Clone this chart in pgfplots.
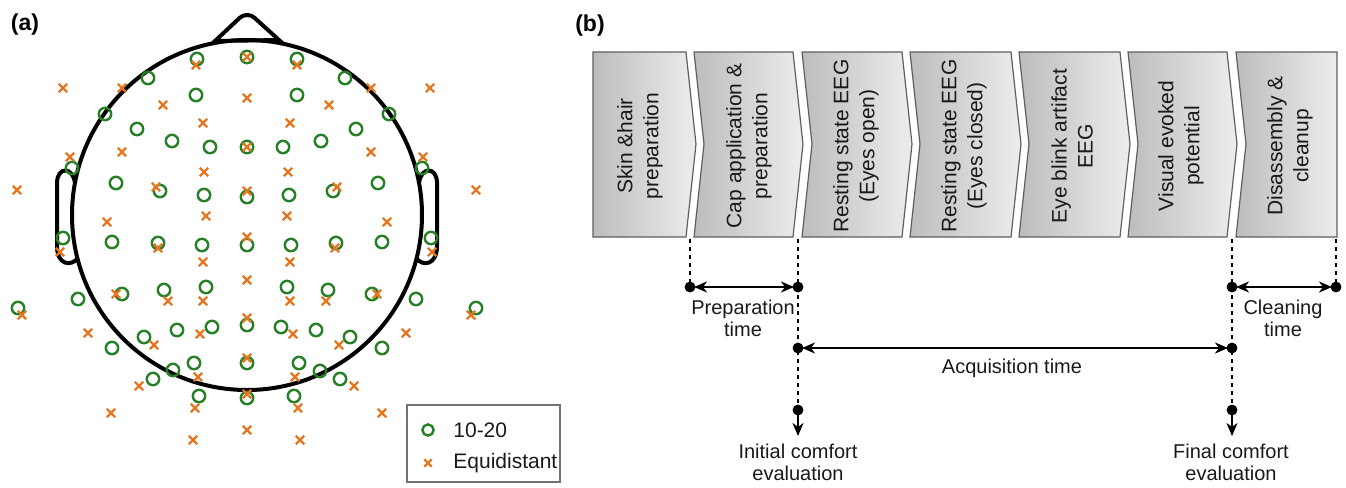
\documentclass[border=0pt]{standalone}
\usepackage{fontspec}
\setmainfont{Liberation Sans}
\usepackage{pgfplots}
\pgfplotsset{compat=1.18}
\usetikzlibrary{arrows.meta}
\definecolor{eeggreen}{RGB}{38,128,38}
\definecolor{eegorange}{RGB}{232,118,32}
\definecolor{boxline}{RGB}{95,95,95}
\begin{document}
\begin{tikzpicture}[
  boxstyle/.style={draw=boxline, line width=0.6pt, left color=black!26, right color=black!7},
  boxtext/.style={rotate=90, align=center, text=black!90, font=\fontsize{10.5}{13}\selectfont},
  lowtext/.style={align=center, text=black!90, font=\fontsize{10}{11}\selectfont},
  arr/.style={line width=1pt, black},
  dotline/.style={line width=1pt, black, dash pattern=on 2pt off 2pt},
  ahead/.tip={Stealth[length=6.5pt,width=5.5pt,inset=2pt]},
]
\begin{axis}[
  width=673pt, height=242pt, scale only axis,
  xmin=0, xmax=1346, ymin=0, ymax=484, y dir=reverse,
  hide axis, clip=false,
]
\path (axis cs:0,0) rectangle (axis cs:1346,484);

% ---------- panel (a): head outline ----------
\draw[line width=2pt] (axis cs:247,215) circle [radius=87.5pt];
\draw[line width=2pt] (axis cs:215,41) [rounded corners=5pt] -- (axis cs:247,11) [sharp corners] -- (axis cs:279,40) -- cycle;
\draw[line width=2pt] (axis cs:75,183) .. controls (axis cs:73,167) and (axis cs:58,166) .. (axis cs:57,182) -- (axis cs:57,246) .. controls (axis cs:57,265) and (axis cs:71,267) .. (axis cs:78,258);
\draw[line width=2pt] (axis cs:419,183) .. controls (axis cs:421,167) and (axis cs:436,166) .. (axis cs:437,182) -- (axis cs:437,246) .. controls (axis cs:437,265) and (axis cs:423,267) .. (axis cs:416,258);

% 10-20 electrodes
\addplot[only marks, mark=o, eeggreen, mark size=3.1pt, line width=1.2pt] coordinates {
(197,59) (247,57) (297,59)
(148,78) (345,78)
(196,95) (297,95)
(105,114) (389,114)
(137,129) (356,129)
(172,141) (321,141)
(210,147) (247,147) (283,147)
(72,168) (422,168)
(116,183) (378,183)
(160,191) (333,191)
(204,195) (247,197) (289,195)
(63,238) (112,242) (158,243) (202,245) (247,245) (291,245) (336,243) (382,242) (431,238)
(206,287) (287,287) (164,290) (328,290) (122,294) (372,294) (78,299) (416,299)
(18,308) (476,308)
(247,325) (212,327) (281,327) (177,330) (316,330) (144,337) (350,337)
(112,348) (382,348)
(194,363) (247,363) (299,363)
(173,370) (320,371)
(153,379) (340,379)
(199,396) (247,398) (294,396)
};
% Equidistant electrodes
\addplot[only marks, mark=x, eegorange, mark size=3pt, line width=1.2pt] coordinates {
(196,65) (247,57) (297,65)
(63,88) (122,88) (371,88) (430,88)
(247,98)
(163,105) (329,105)
(203,123) (290,123)
(247,147)
(122,152) (371,152) (70,157) (423,157)
(204,172) (288,172)
(17,190) (156,187) (247,191) (337,187) (476,190)
(206,216) (287,216) (107,222) (387,222)
(247,237)
(158,248) (335,248) (60,252) (432,252)
(203,262) (290,262)
(247,280)
(116,294) (377,294)
(168,301) (203,301) (290,301) (326,301)
(22,315) (471,315)
(247,318)
(88,333) (406,333)
(200,334) (293,334)
(154,345) (339,345)
(247,358)
(198,377) (295,377)
(139,386) (354,386)
(247,394)
(195,408) (298,408)
(111,413) (382,413)
(247,430)
(193,440) (300,440)
};

% legend
\draw[draw=black!55, line width=0.8pt] (axis cs:407,405) rectangle (axis cs:560,482);
\addplot[only marks, mark=o, eeggreen, mark size=2.8pt, line width=1.2pt] coordinates {(428,430)};
\addplot[only marks, mark=x, eegorange, mark size=2.6pt, line width=1.2pt] coordinates {(428,463)};
\node[anchor=west, inner sep=0pt, text=black!90, font=\fontsize{10.5}{12}\selectfont] at (axis cs:453,430) {10-20};
\node[anchor=west, inner sep=0pt, text=black!90, font=\fontsize{10.5}{12}\selectfont] at (axis cs:453,463) {Equidistant};

\node[font=\bfseries\fontsize{11.5}{13}\selectfont] at (axis cs:25,25) {(a)};
\node[font=\bfseries\fontsize{11.5}{13}\selectfont] at (axis cs:590,26) {(b)};

% ---------- panel (b): protocol steps ----------
\addplot[boxstyle] coordinates {(593,52) (686,52) (696,144) (686,237) (593,237)} -- cycle;
\addplot[boxstyle] coordinates {(694,52) (793,52) (803,144) (793,237) (694,237) (704,144)} -- cycle;
\addplot[boxstyle] coordinates {(802,52) (902,52) (912,144) (902,237) (802,237) (812,144)} -- cycle;
\addplot[boxstyle] coordinates {(910,52) (1011,52) (1021,144) (1011,237) (910,237) (920,144)} -- cycle;
\addplot[boxstyle] coordinates {(1019,52) (1120,52) (1130,144) (1120,237) (1019,237) (1029,144)} -- cycle;
\addplot[boxstyle] coordinates {(1128,52) (1227,52) (1237,144) (1227,237) (1128,237) (1138,144)} -- cycle;
\addplot[boxstyle] coordinates {(1236,52) (1337,52) (1337,237) (1236,237) (1246,144)} -- cycle;

\node[boxtext] at (axis cs:640,146) {Skin \&hair\\preparation};
\node[boxtext] at (axis cs:749,146) {Cap application \&\\preparation};
\node[boxtext] at (axis cs:856,146) {Resting state EEG\\(Eyes open)};
\node[boxtext] at (axis cs:964,146) {Resting state EEG\\(Eyes closed)};
\node[boxtext] at (axis cs:1072,146) {Eye blink artifact\\EEG};
\node[boxtext] at (axis cs:1181,146) {Visual evoked\\potential};
\node[boxtext] at (axis cs:1290,146) {Disassembly \&\\cleanup};

% dotted guide lines
\addplot[dotline] coordinates {(690,239) (690,287)};
\addplot[dotline] coordinates {(798,239) (798,410)};
\addplot[dotline] coordinates {(1232,239) (1232,410)};
\addplot[dotline] coordinates {(1336,239) (1336,287)};

% time spans
\addplot[arr, ahead-ahead] coordinates {(694,287) (794,287)};
\addplot[arr, ahead-ahead] coordinates {(802,348) (1228,348)};
\addplot[arr, ahead-ahead] coordinates {(1236,287) (1332,287)};
\addplot[arr, -ahead] coordinates {(798,410) (798,436)};
\addplot[arr, -ahead] coordinates {(1232,410) (1232,436)};
\addplot[only marks, mark=*, black, mark size=2.5pt] coordinates {
(690,287) (798,287) (798,348) (798,410) (1232,287) (1232,348) (1232,410) (1336,287)};

\node[lowtext] at (axis cs:743,318) {Preparation\\time};
\node[lowtext] at (axis cs:1283,318) {Cleaning\\time};
\node[lowtext] at (axis cs:1012,368) {Acquisition time};
\node[lowtext] at (axis cs:798,462) {Initial comfort\\evaluation};
\node[lowtext] at (axis cs:1231,462) {Final comfort\\evaluation};
\end{axis}
\end{tikzpicture}
\end{document}
